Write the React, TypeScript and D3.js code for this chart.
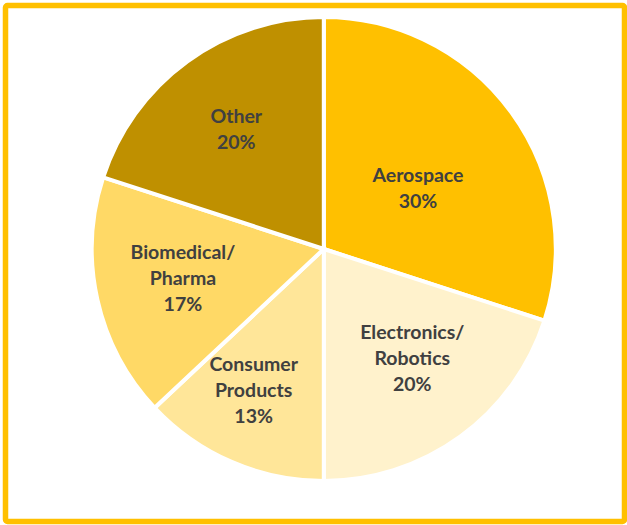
import React, { useEffect, useRef } from 'react';
import * as d3 from 'd3';

// slice data, clockwise from 12 o'clock
const categories = [['Aerospace'], ['Electronics/', 'Robotics'], ['Consumer', 'Products'], ['Biomedical/', 'Pharma'], ['Other']];
const shares = [30, 20 , 13, 17, 20];
const colors = ['#FFC000', '#FFF2CC', '#FFE699', '#FFD966', '#BF9000'];

// label placement: fraction of radius, and a small turn (deg) off the bisector
const labelDist = [0.484, 0.606, 0.68, 0.62, 0.642];
const labelTurn = [3, -3, 3, 1, 0];

const width = 627;
const height = 525;

export default function App() {
  const ref = useRef<SVGSVGElement>(null);

  useEffect(() => {
    const svg = d3.select(ref.current);
    svg.selectAll('*').remove();

    svg.append('rect')
      .attr('x', 5.5)
      .attr('y', 5.5)
      .attr('width', 619)
      .attr('height', 516)
      .attr('rx', 2)
      .attr('fill', 'white')
      .attr('stroke', '#FFC000')
      .attr('stroke-width', 5.5);

    const cx = 323.8;
    const cy = 249;
    const r = 232;

    const pie = d3.pie<number>().sort(null).value(d => d);
    const arcs = pie(shares);

    const arc = d3.arc<d3.PieArcDatum<number>>()
      .innerRadius(0)
      .outerRadius(r);

    const g = svg.append('g').attr('transform', `translate(${cx} ${cy})`);

    g.selectAll('path.slice')
      .data(arcs)
      .enter()
      .append('path')
      .attr('class', 'slice')
      .attr('d', arc)
      .attr('fill', (d, i) => colors[i])
      .attr('stroke', 'white')
      .attr('stroke-width', 4)
      .attr('stroke-linejoin', 'miter');

    const lineH = 26;
    const labels = g.selectAll('g.label')
      .data(arcs)
      .enter()
      .append('g')
      .attr('class', 'label')
      .attr('transform', (d, i) => {
        const a = (d.startAngle + d.endAngle) / 2 + labelTurn[i] * Math.PI / 180;
        const dist = labelDist[i] * r;
        return `translate(${Math.sin(a) * dist} ${-Math.cos(a) * dist})`;
      });

    labels.each(function (d, i) {
      const lines = [...categories[i], shares[i] + '%'];
      const t = d3.select(this).append('text')
        .attr('text-anchor', 'middle')
        .attr('font-family', 'Lato, "Open Sans", sans-serif')
        .attr('font-weight', 'bold')
        .attr('font-size', 19.5)
        .attr('fill', '#404040');
      lines.forEach((ln, k) => {
        t.append('tspan')
          .attr('x', 0)
          .attr('y', (k - (lines.length - 1) / 2) * lineH + 7)
          .text(ln);
      });
    });
  }, []);

  return (
    <div style={{ position: 'absolute', left: 0, top: 0 }}>
      <svg ref={ref} width={width} height={height} style={{ display: 'block' }}></svg>
    </div>
  );
}
